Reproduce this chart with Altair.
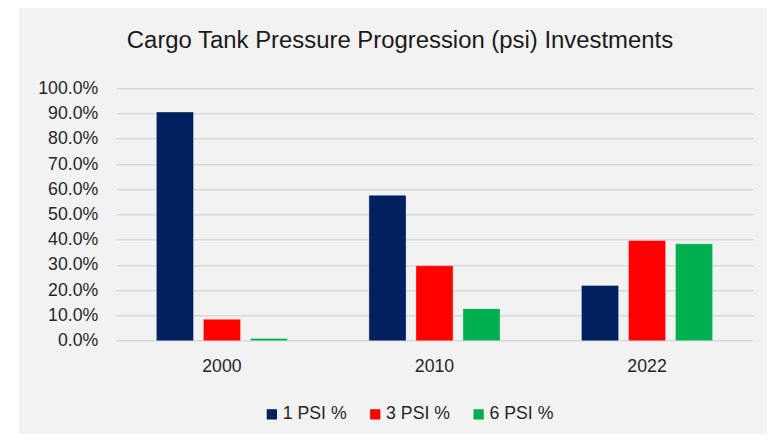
import altair as alt
import pandas as pd

years = ["2000", "2010", "2022"]
series = ["1 PSI %", "3 PSI %", "6 PSI %"]
psi1 = [0.906, 0.576, 0.219]
psi3 = [0.085, 0.297, 0.397]
psi6 = [0.009, 0.127, 0.384]
colors = ["#002060", "#ff0000", "#00b050"]
y_ticks = [0.0, 0.1, 0.2, 0.3, 0.4, 0.5, 0.6, 0.7, 0.8, 0.9, 1.0]
title_text = "Cargo Tank Pressure Progression (psi) Investments"

rows = []
for i, yr in enumerate(years):
    for s, vals in zip(series, [psi1, psi3, psi6]):
        rows.append({"year": yr, "series": s, "value": vals[i]})
df = pd.DataFrame(rows)

FONT = "Liberation Sans"
TXT = "#262626"

bars = alt.Chart(df).mark_bar(
    stroke="white", strokeOpacity=0.35, strokeWidth=1
).encode(
    x=alt.X(
        "year:N", sort=years,
        scale=alt.Scale(paddingInner=0.383, paddingOuter=0.19),
        axis=alt.Axis(title=None, labelAngle=0, labelFontSize=17.7, labelFont=FONT,
                      labelColor=TXT, labelPadding=17, ticks=False, tickSize=0,
                      domain=False, grid=False),
    ),
    xOffset=alt.XOffset("series:N", sort=series,
                        scale=alt.Scale(paddingInner=0.21, paddingOuter=0)),
    y=alt.Y(
        "value:Q",
        scale=alt.Scale(domain=[0, 1], nice=False),
        axis=alt.Axis(title=None, format=".1%", values=y_ticks, labelFontSize=17.7,
                      labelFont=FONT, labelColor=TXT, labelPadding=18.3, ticks=False,
                      tickSize=0, domain=False, grid=True, gridColor="#d9d9d9",
                      gridWidth=1.6),
    ),
    color=alt.Color(
        "series:N", sort=series,
        scale=alt.Scale(domain=series, range=colors),
        legend=alt.Legend(title=None, orient="none", legendX=147, legendY=317,
                          direction="horizontal", symbolType="square", symbolSize=106,
                          symbolStrokeWidth=0, symbolOpacity=1, labelFontSize=17.7,
                          labelFont=FONT, labelColor=TXT, columnPadding=19.4,
                          labelOffset=2, padding=0),
    ),
)

# white page margin strip to the left of the grey chart panel
strip = alt.Chart(pd.DataFrame({"k": [0]})).mark_rect(color="white").encode(
    x=alt.value(-108), x2=alt.value(-97), y=alt.value(-80.3), y2=alt.value(345.7)
)

chart = alt.layer(strip, bars).properties(
    width=637,
    height=252.4,
    title=alt.TitleParams(text=title_text, fontSize=23.9, font=FONT, fontWeight="normal",
                          color="#1a1a1a", anchor="middle", frame="group",
                          baseline="alphabetic", offset=-64, dx=-34.5),
    background="#f2f2f2",
    padding={"left": 108, "top": 80.3, "right": 14, "bottom": 93},
    autosize=alt.AutoSizeParams(type="none"),
).configure_view(stroke=None)

chart.save("out.html", embed_options={"renderer": "svg", "actions": False})
